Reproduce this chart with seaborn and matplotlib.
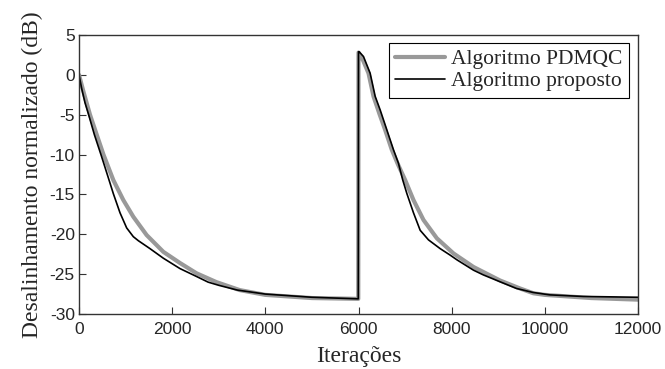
import matplotlib
matplotlib.use("Agg")
import matplotlib.pyplot as plt
import seaborn as sns
import pandas as pd

# ---- data ----
iter_pdmqc = [0, 100, 236, 380, 525, 737, 951, 1166, 1452, 1810, 2167, 2525, 2950,
              3450, 4000, 5000, 5995,
              6000, 6100, 6215, 6322, 6450, 6572, 6715, 6837, 7002, 7180, 7395, 7682,
              8039, 8468, 9040, 9469, 9755, 10000, 11000, 12000]
val_pdmqc = [0.0, -2.2, -5.0, -7.5, -10.0, -13.2, -15.7, -17.8, -20.1, -22.2, -23.6,
             -24.9, -26.0, -27.0, -27.6, -28.0, -28.1,
             2.8, 1.8, 0.2, -2.7, -4.9, -6.9, -9.4, -11.1, -13.2, -15.7, -18.2, -20.5,
             -22.4, -24.1, -25.8, -26.8, -27.4, -27.6, -28.0, -28.2]

iter_prop = [0, 57, 129, 207, 330, 471, 629, 737, 880, 1023, 1166, 1273, 1524, 1810,
             2167, 2525, 2771, 3000, 3400, 4000, 5000, 5995,
             6000, 6014, 6107, 6250, 6358, 6465, 6608, 6751, 6858, 6950, 7039, 7180,
             7324, 7502, 7753, 7964, 8112, 8468, 8682, 9036, 9393, 9750, 10107, 10822,
             12000]
val_prop = [0.0, -1.7, -3.5, -5.0, -7.5, -10.0, -12.9, -14.9, -17.3, -19.2, -20.3,
            -20.8, -21.8, -23.0, -24.3, -25.3, -26.0, -26.4, -27.0, -27.5, -27.9, -28.1,
            2.9, 2.9, 2.3, 0.2, -2.7, -4.4, -6.9, -9.4, -11.1, -13.2, -14.9, -17.3,
            -19.5, -20.7, -21.8, -22.6, -23.2, -24.5, -25.1, -25.95, -26.8, -27.3,
            -27.6, -27.8, -27.9]

xticks = [0, 2000, 4000, 6000, 8000, 10000, 12000]
yticks = [-30, -25, -20, -15, -10, -5, 0, 5]
label_pdmqc = "Algoritmo PDMQC"
label_prop = "Algoritmo proposto"

df = pd.concat([
    pd.DataFrame({"it": iter_pdmqc, "val": val_pdmqc, "alg": label_pdmqc}),
    pd.DataFrame({"it": iter_prop, "val": val_prop, "alg": label_prop}),
], ignore_index=True)

sns.set_theme(style="white")
plt.rcParams["font.family"] = ["Liberation Serif", "DejaVu Serif"]
plt.rcParams["axes.unicode_minus"] = False

fig = plt.figure(figsize=(6.65, 3.69), dpi=100)
ax = fig.add_axes([79 / 665, 55 / 369, 559 / 665, 279 / 369])

sns.lineplot(data=df, x="it", y="val", hue="alg", size="alg",
             palette={label_pdmqc: "#999999", label_prop: "#000000"},
             sizes={label_pdmqc: 3.0, label_prop: 1.2},
             hue_order=[label_pdmqc, label_prop], size_order=[label_pdmqc, label_prop],
             estimator=None, sort=False, solid_joinstyle="round", ax=ax)

ax.set_xlim(0, 12000)
ax.set_ylim(-30, 5)
ax.set_xticks(xticks)
ax.set_yticks(yticks)
ax.tick_params(axis="both", direction="in", length=5, width=0.8, color="#333333",
               labelsize=12.5, bottom=True, left=True, top=False, right=False)
ax.tick_params(axis="y", pad=3)
ax.tick_params(axis="x", pad=6)
for lab in ax.get_xticklabels() + ax.get_yticklabels():
    lab.set_family(["Liberation Sans", "DejaVu Sans"])
for s in ax.spines.values():
    s.set_color("#333333")
    s.set_linewidth(1.0)

ax.set_xlabel("Iterações", fontsize=17, labelpad=6.5)
ax.set_ylabel("Desalinhamento normalizado (dB)", fontsize=17, labelpad=5)

handles, labels = ax.get_legend_handles_labels()
leg = ax.legend(handles=handles, labels=labels, loc="upper right",
                bbox_to_anchor=(629 / 665, 1 - 42.7 / 369), bbox_transform=fig.transFigure,
                borderaxespad=0, fontsize=15.5, frameon=True, fancybox=False,
                edgecolor="#000000", framealpha=1, handlelength=2.3, handletextpad=0.3,
                borderpad=0.3, labelspacing=0.1)
leg.get_frame().set_linewidth(0.8)

fig.savefig("out.png", dpi=100)
